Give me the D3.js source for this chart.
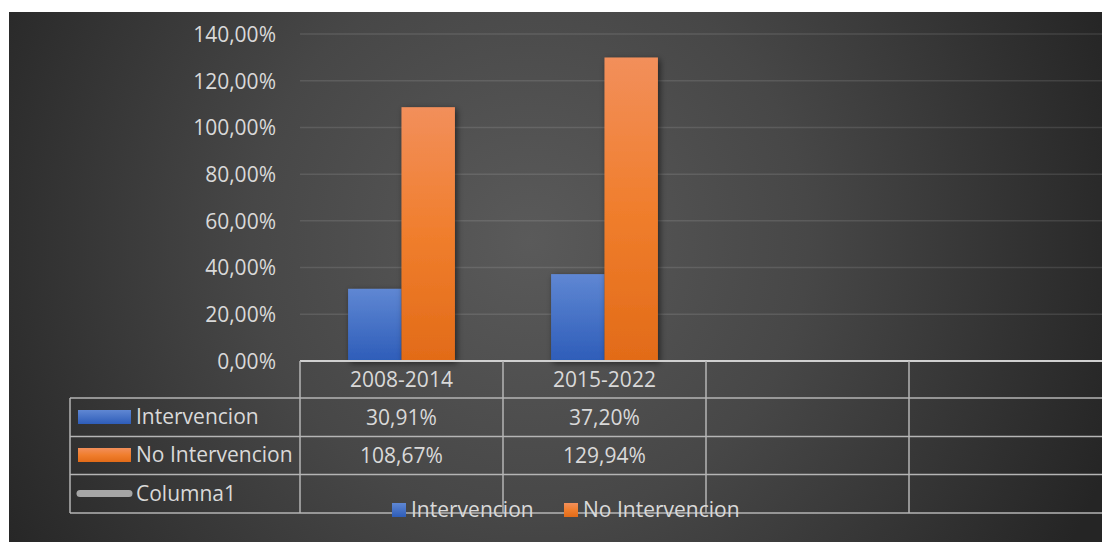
<!DOCTYPE html>
<html>
<head>
<meta charset="utf-8">
<script src="https://cdn.jsdelivr.net/npm/d3@7"></script>
<style>
  html, body { margin: 0; padding: 0; background: #ffffff; }
  svg { display: block; }
  text { font-family: "Open Sans", sans-serif; }
</style>
</head>
<body>
<svg id="chart" width="1102" height="542"></svg>
<script>
// ---- data ----
const categories = ["2008-2014", "2015-2022"];
const emptySlots = ["", ""];
const seriesNames = ["Intervencion", "No Intervencion"];
const intervencion = [0.3091, 0.3720];
const noIntervencion = [1.0867, 1.2994];
const extraSeries = ["Columna1"];
const yTicks = [0, 0.2, 0.4, 0.6, 0.8, 1.0, 1.2, 1.4];

// ---- setup ----
const svg = d3.select("#chart");
const defs = svg.append("defs");
const FS = "21px";

const bg = defs.append("radialGradient").attr("id", "bg")
  .attr("gradientUnits", "userSpaceOnUse")
  .attr("cx", 530).attr("cy", 240).attr("r", 620);
bg.append("stop").attr("offset", 0).attr("stop-color", "#5a5a5a");
bg.append("stop").attr("offset", 0.45).attr("stop-color", "#474747");
bg.append("stop").attr("offset", 1).attr("stop-color", "#252525");

function vgrad(id, stops) {
  const g = defs.append("linearGradient").attr("id", id)
    .attr("x1", 0).attr("y1", 0).attr("x2", 0).attr("y2", 1);
  stops.forEach(s => g.append("stop").attr("offset", s[0]).attr("stop-color", s[1]));
}
vgrad("gBlue", [[0, "#5f87d3"], [1, "#2e5db9"]]);
vgrad("gOrange", [[0, "#f28f5b"], [0.5, "#f07e2d"], [1, "#e26b18"]]);
const fills = ["url(#gBlue)", "url(#gOrange)"];

const shadow = defs.append("filter").attr("id", "shadow")
  .attr("x", "-30%").attr("y", "-10%").attr("width", "160%").attr("height", "130%");
shadow.append("feDropShadow").attr("dx", 2).attr("dy", 2)
  .attr("stdDeviation", 3).attr("flood-color", "#000").attr("flood-opacity", 0.55);

// panel
svg.append("rect").attr("x", 9).attr("y", 12).attr("width", 1093).attr("height", 530)
  .attr("fill", "url(#bg)");

const fmt = d3.formatLocale({decimal: ",", thousands: ".", grouping: [3], currency: ["", "€"]}).format(".2%");

const slots = categories.concat(emptySlots.map((d, i) => "slot" + i));
const x = d3.scaleBand().domain(slots).range([300, 1112]);
const xs = d3.scaleBand().domain(seriesNames).range([0, x.bandwidth()]).paddingOuter(0.9);
const y = d3.scaleLinear().domain([0, 1.4]).range([361, 34]);

// gridlines
svg.append("g").selectAll("line").data(yTicks.filter(d => d > 0)).join("line")
  .attr("x1", 300).attr("x2", 1112)
  .attr("y1", d => y(d)).attr("y2", d => y(d))
  .attr("stroke", "#ffffff").attr("stroke-opacity", 0.11).attr("stroke-width", 1.5);

// y axis labels
const yAxis = d3.axisLeft(y).tickValues(yTicks).tickFormat(fmt).tickSize(0).tickPadding(0);
const ya = svg.append("g").attr("transform", "translate(276,0)").call(yAxis);
ya.select(".domain").remove();
ya.selectAll("text").attr("fill", "#d9d9d9").style("font-size", FS)
  .style("font-family", "'Open Sans', sans-serif").attr("dy", "0.35em");

// bars
const seriesValues = [intervencion, noIntervencion];
const barData = [];
categories.forEach((c, i) => seriesNames.forEach((s, j) => barData.push({c, s, v: seriesValues[j][i], j})));
svg.append("g").selectAll("rect").data(barData).join("rect")
  .attr("x", d => x(d.c) + xs(d.s))
  .attr("width", xs.bandwidth())
  .attr("y", d => y(d.v))
  .attr("height", d => y(0) - y(d.v))
  .attr("fill", d => fills[d.j])
  .attr("filter", "url(#shadow)");

// data table
const rowTops = [361, 398, 436.5, 474.5, 513];
const tbl = svg.append("g").attr("stroke", "#b5b5b5").attr("stroke-width", 1.5).attr("fill", "none");
tbl.append("line").attr("x1", 300).attr("x2", 1112).attr("y1", rowTops[0]).attr("y2", rowTops[0])
  .attr("stroke", "#d0d0d0").attr("stroke-width", 2);
rowTops.slice(1).forEach(r => tbl.append("line").attr("x1", 70).attr("x2", 1112).attr("y1", r).attr("y2", r));
tbl.append("line").attr("x1", 70).attr("x2", 70).attr("y1", rowTops[1]).attr("y2", rowTops[4]);
slots.forEach(s => tbl.append("line").attr("x1", x(s)).attr("x2", x(s)).attr("y1", rowTops[0]).attr("y2", rowTops[4]));

const txt = svg.append("g").attr("fill", "#d9d9d9").style("font-size", FS);
categories.forEach((c, i) => {
  const cx = x(c) + x.bandwidth() / 2;
  txt.append("text").attr("x", cx).attr("y", 387).attr("text-anchor", "middle").text(c);
  txt.append("text").attr("x", cx).attr("y", 425).attr("text-anchor", "middle").text(fmt(intervencion[i]));
  txt.append("text").attr("x", cx).attr("y", 463).attr("text-anchor", "middle").text(fmt(noIntervencion[i]));
});

// table legend keys
const keyY = [410, 448];
seriesNames.forEach((s, j) => {
  svg.append("rect").attr("x", 78).attr("y", keyY[j]).attr("width", 53).attr("height", 14).attr("fill", fills[j]);
  txt.append("text").attr("x", 136).attr("y", keyY[j] + 14).text(s);
});
svg.append("line").attr("x1", 80).attr("x2", 129).attr("y1", 493.5).attr("y2", 493.5)
  .attr("stroke", "#a6a6a6").attr("stroke-width", 7).attr("stroke-linecap", "round");
txt.append("text").attr("x", 136).attr("y", 501).text(extraSeries[0]);

// bottom legend
const legX = [392, 564];
seriesNames.forEach((s, j) => {
  svg.append("rect").attr("x", legX[j]).attr("y", 503).attr("width", 14).attr("height", 14).attr("fill", fills[j]);
  txt.append("text").attr("x", legX[j] + 19).attr("y", 517).text(s);
});
</script>
</body>
</html>
